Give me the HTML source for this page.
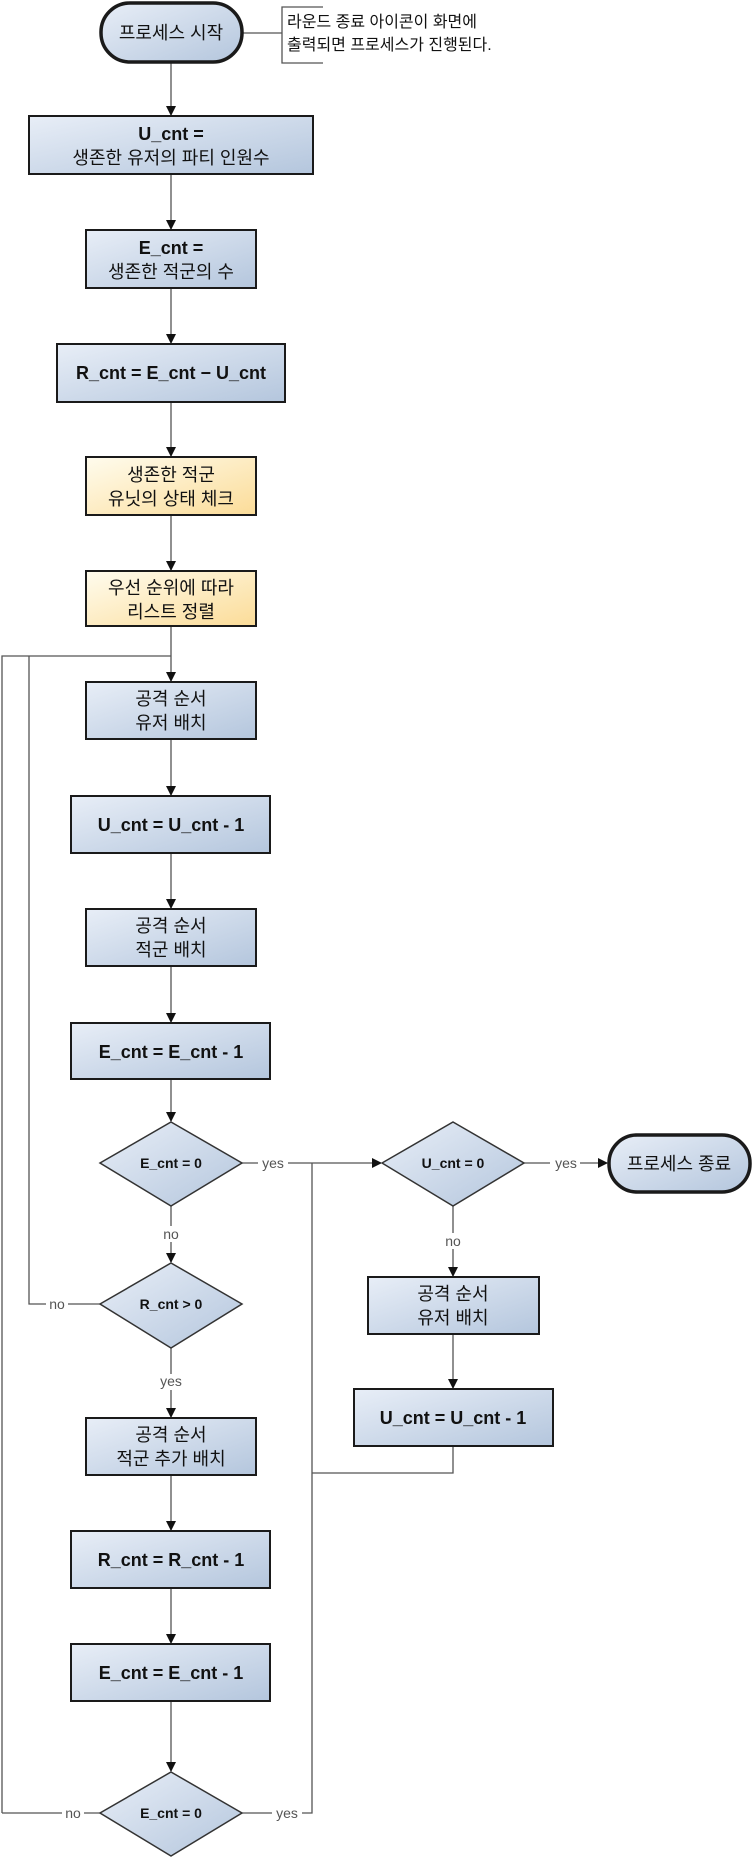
<!DOCTYPE html>
<html><head><meta charset="utf-8"><style>
html,body{margin:0;padding:0;background:#fff;}
svg{display:block;}
text{font-family:"Liberation Sans","Noto Sans CJK KR",sans-serif;}
.k{font-size:18px;fill:#111;}
.b{font-size:18px;font-weight:bold;fill:#111;}
.d{font-size:14px;font-weight:bold;fill:#111;}
.l{font-size:14px;fill:#555;}
</style></head><body>
<svg width="754" height="1860" viewBox="0 0 754 1860" xmlns="http://www.w3.org/2000/svg">
<defs>
<linearGradient id="bl" x1="0" y1="0" x2="1" y2="1"><stop offset="0" stop-color="#e8eef7"/><stop offset="1" stop-color="#b4c6dd"/></linearGradient>
<linearGradient id="yl" x1="0" y1="0" x2="1" y2="1"><stop offset="0" stop-color="#fffcee"/><stop offset="1" stop-color="#fbdc98"/></linearGradient>
<marker id="a" markerWidth="10" markerHeight="10" refX="9" refY="5" orient="auto" markerUnits="userSpaceOnUse"><path d="M0,0 L10,5 L0,10 z" fill="#111"/></marker>
</defs>
<g fill="none" stroke="#555" stroke-width="1.3">
<!-- note -->
<line x1="242" y1="33" x2="282" y2="33"/>
<polyline points="323,7 282,7 282,63 323,63"/>
<line x1="171" y1="63" x2="171" y2="115" marker-end="url(#a)"/>
<line x1="171" y1="174" x2="171" y2="229" marker-end="url(#a)"/>
<line x1="171" y1="288" x2="171" y2="343" marker-end="url(#a)"/>
<line x1="171" y1="402" x2="171" y2="456" marker-end="url(#a)"/>
<line x1="171" y1="515" x2="171" y2="570" marker-end="url(#a)"/>
<line x1="171" y1="626" x2="171" y2="681" marker-end="url(#a)"/>
<polyline points="2,1813 2,656 171,656"/>
<polyline points="57,1304 29,1304 29,656"/>
<line x1="171" y1="739" x2="171" y2="795" marker-end="url(#a)"/>
<line x1="171" y1="853" x2="171" y2="908" marker-end="url(#a)"/>
<line x1="171" y1="966" x2="171" y2="1022" marker-end="url(#a)"/>
<line x1="171" y1="1079" x2="171" y2="1121" marker-end="url(#a)"/>
<line x1="171" y1="1206" x2="171" y2="1262" marker-end="url(#a)"/>
<line x1="57" y1="1304" x2="100" y2="1304"/>
<line x1="171" y1="1348" x2="171" y2="1417" marker-end="url(#a)"/>
<line x1="171" y1="1475" x2="171" y2="1530" marker-end="url(#a)"/>
<line x1="171" y1="1588" x2="171" y2="1643" marker-end="url(#a)"/>
<line x1="171" y1="1701" x2="171" y2="1771" marker-end="url(#a)"/>
<line x1="2" y1="1813" x2="100" y2="1813"/>
<polyline points="242,1813 312,1813 312,1163"/>
<line x1="242" y1="1163" x2="381" y2="1163" marker-end="url(#a)"/>
<line x1="524" y1="1163" x2="607" y2="1163" marker-end="url(#a)"/>
<line x1="453" y1="1206" x2="453" y2="1276" marker-end="url(#a)"/>
<line x1="453" y1="1334" x2="453" y2="1388" marker-end="url(#a)"/>
<polyline points="453,1446 453,1473 312,1473"/>
</g>
<!-- label backgrounds -->
<g fill="#fff">
<rect x="258" y="1154" width="30" height="16"/><rect x="550" y="1154" width="30" height="16"/>
<rect x="160" y="1226" width="22" height="16"/><rect x="442" y="1233" width="22" height="16"/>
<rect x="46" y="1296" width="22" height="16"/><rect x="156" y="1374" width="30" height="16"/>
<rect x="62" y="1805" width="22" height="16"/><rect x="272" y="1805" width="30" height="16"/>
</g>
<g class="l" text-anchor="middle">
<text x="273" y="1168">yes</text><text x="566" y="1168">yes</text>
<text x="171" y="1239">no</text><text x="453" y="1246">no</text>
<text x="57" y="1309">no</text><text x="171" y="1386">yes</text>
<text x="73" y="1818">no</text><text x="287" y="1818">yes</text>
</g>
<g stroke="#1a1a1a" stroke-width="2">
<rect x="101" y="3" width="141" height="59" rx="29" fill="url(#bl)" stroke-width="3.5"/>
<rect x="609" y="1135" width="141" height="57" rx="28" fill="url(#bl)" stroke-width="3.5"/>
<rect x="29" y="116" width="284" height="58" fill="url(#bl)"/>
<rect x="86" y="230" width="170" height="58" fill="url(#bl)"/>
<rect x="57" y="344" width="228" height="58" fill="url(#bl)"/>
<rect x="86" y="457" width="170" height="58" fill="url(#yl)"/>
<rect x="86" y="571" width="170" height="55" fill="url(#yl)"/>
<rect x="86" y="682" width="170" height="57" fill="url(#bl)"/>
<rect x="71" y="796" width="199" height="57" fill="url(#bl)"/>
<rect x="86" y="909" width="170" height="57" fill="url(#bl)"/>
<rect x="71" y="1023" width="199" height="56" fill="url(#bl)"/>
<rect x="86" y="1418" width="170" height="57" fill="url(#bl)"/>
<rect x="71" y="1531" width="199" height="57" fill="url(#bl)"/>
<rect x="71" y="1644" width="199" height="57" fill="url(#bl)"/>
<rect x="368" y="1277" width="171" height="57" fill="url(#bl)"/>
<rect x="354" y="1389" width="199" height="57" fill="url(#bl)"/>
</g>
<g stroke="#333" stroke-width="1.5" fill="url(#bl)">
<polygon points="171,1122 242,1163 171,1206 100,1163"/>
<polygon points="171,1263 242,1304 171,1348 100,1304"/>
<polygon points="171,1772 242,1813 171,1856 100,1813"/>
<polygon points="453,1122 524,1163 453,1206 382,1163"/>
</g>
<g text-anchor="middle">
<text class="k" x="171" y="39">프로세스 시작</text>
<text class="k" x="679" y="1170">프로세스 종료</text>
<text class="b" x="171" y="140">U_cnt =</text><text class="k" x="171" y="164">생존한 유저의 파티 인원수</text>
<text class="b" x="171" y="254">E_cnt =</text><text class="k" x="171" y="278">생존한 적군의 수</text>
<text class="b" x="171" y="379">R_cnt = E_cnt − U_cnt</text>
<text class="k" x="171" y="481">생존한 적군</text><text class="k" x="171" y="505">유닛의 상태 체크</text>
<text class="k" x="171" y="594">우선 순위에 따라</text><text class="k" x="171" y="618">리스트 정렬</text>
<text class="k" x="171" y="705">공격 순서</text><text class="k" x="171" y="729">유저 배치</text>
<text class="b" x="171" y="831">U_cnt = U_cnt - 1</text>
<text class="k" x="171" y="932">공격 순서</text><text class="k" x="171" y="956">적군 배치</text>
<text class="b" x="171" y="1058">E_cnt = E_cnt - 1</text>
<text class="d" x="171" y="1168">E_cnt = 0</text>
<text class="d" x="171" y="1309">R_cnt &gt; 0</text>
<text class="k" x="171" y="1441">공격 순서</text><text class="k" x="171" y="1465">적군 추가 배치</text>
<text class="b" x="171" y="1566">R_cnt = R_cnt - 1</text>
<text class="b" x="171" y="1679">E_cnt = E_cnt - 1</text>
<text class="d" x="171" y="1818">E_cnt = 0</text>
<text class="d" x="453" y="1168">U_cnt = 0</text>
<text class="k" x="453" y="1300">공격 순서</text><text class="k" x="453" y="1324">유저 배치</text>
<text class="b" x="453" y="1424">U_cnt = U_cnt - 1</text>
</g>
<text class="k" x="287" y="27" style="font-size:16px">라운드 종료 아이콘이 화면에</text>
<text class="k" x="287" y="50" style="font-size:16px">출력되면 프로세스가 진행된다.</text>
</svg>
</body></html>
